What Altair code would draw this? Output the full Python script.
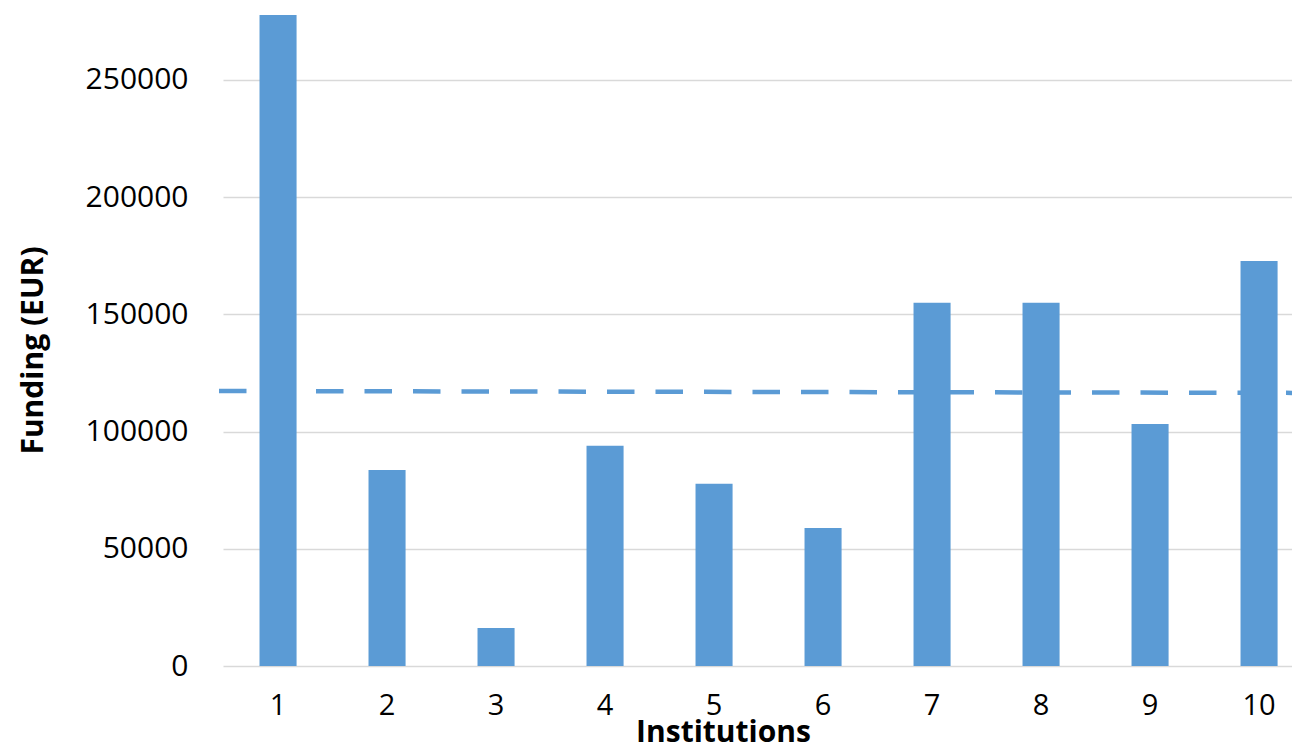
import altair as alt
import pandas as pd

institutions = ["1", "2", "3", "4", "5", "6", "7", "8", "9", "10"]
funding = [278000, 83600, 16200, 93900, 77700, 58900, 154900, 154900, 103200, 172800]
trend_start = 117300
trend_end = 116500
y_ticks = [0, 50000, 100000, 150000, 200000, 250000]
y_max = 277700

df = pd.DataFrame({"Institutions": institutions, "Funding": funding})
trend_df = pd.DataFrame({"a": [trend_start], "b": [trend_end]})

W = 1069
H = 651
FONT = "Open Sans"
BLUE = "#5b9bd5"

xscale = alt.Scale(domain=institutions, paddingInner=0.66, paddingOuter=0.2336, align=0.717, round=False)
yscale = alt.Scale(domain=[0, y_max], nice=False, zero=True)

bars = alt.Chart(df).mark_bar(color=BLUE, clip=True).encode(
    x=alt.X("Institutions:N", scale=xscale, sort=institutions,
            axis=alt.Axis(title="Institutions", labelAngle=0, domain=False, ticks=False,
                          labelFontSize=29, labelFont=FONT, labelColor="#000000",
                          labelPadding=25, titleFontSize=30, titleFont=FONT,
                          titleFontWeight="bold", titleColor="#000000",
                          titleBaseline="alphabetic", titleAlign="center",
                          titleX=500, titleY=75)),
    y=alt.Y("Funding:Q", scale=yscale,
            axis=alt.Axis(title="Funding (EUR)", values=y_ticks, format="d", domain=False, ticks=False,
                          gridColor="#d9d9d9", gridWidth=1.5,
                          labelFontSize=30, labelFont=FONT, labelColor="#000000",
                          labelPadding=35, titleFontSize=30, titleFont=FONT,
                          titleFontWeight="bold", titleColor="#000000",
                          titleAngle=-90, titleAlign="center", titleBaseline="middle",
                          titleX=-190, titleY=335)),
)

trend = alt.Chart(trend_df).mark_rule(color=BLUE, strokeWidth=4.5, strokeDash=[27.5, 21]).encode(
    x=alt.value(-4),
    x2=alt.value(W + 10),
    y=alt.Y("a:Q", scale=yscale),
    y2="b:Q",
)

chart = alt.layer(trend, bars).properties(
    width=W, height=H,
    autosize=alt.AutoSizeParams(type="none"),
    padding={"left": 215, "top": 7, "right": 0, "bottom": 76},
).configure(background="#ffffff", view=alt.ViewConfig(stroke=None))

chart.save("out.html", embed_options={"renderer": "svg", "actions": False})
